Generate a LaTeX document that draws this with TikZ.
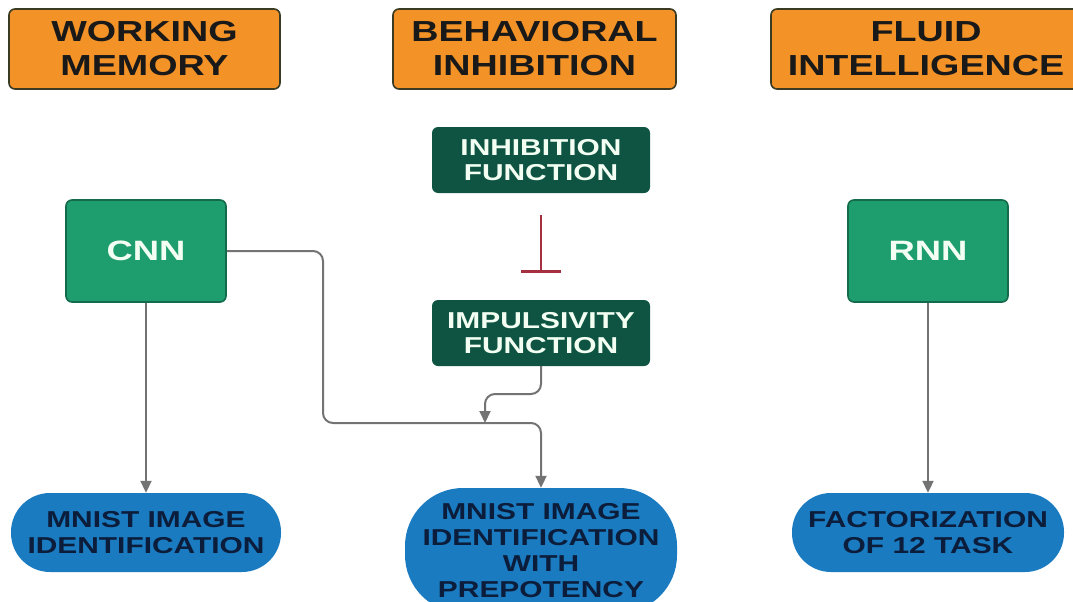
\documentclass[tikz,border=0pt]{standalone}
\usepackage{fontspec}
\setmainfont{Liberation Sans}[FakeStretch=1.3]
\usepackage{xcolor}
\usetikzlibrary{arrows.meta, positioning}
\definecolor{headorange}{HTML}{F29227}
\definecolor{headedge}{HTML}{3B3A22}
\definecolor{netgreen}{HTML}{1E9E6E}
\definecolor{netedge}{HTML}{146B4B}
\definecolor{funcgreen}{HTML}{0F5443}
\definecolor{taskblue}{HTML}{1B7BC0}
\definecolor{tasktext}{HTML}{0B1D3A}
\definecolor{inhibred}{HTML}{A63040}
\definecolor{linkgray}{HTML}{737373}

\begin{document}
\begin{tikzpicture}
  [
    x=1pt, y=-1pt,
    Head/.style={rectangle, rounded corners=6pt, draw=headedge, fill=headorange, line width=1.6pt,
      minimum width=#1, minimum height=80pt, inner sep=0pt, align=center, text=black!90,
      font=\fontsize{29}{34}\selectfont\bfseries},
    Net/.style={rectangle, rounded corners=6pt, draw=netedge, fill=netgreen, line width=1.6pt,
      minimum width=160pt, minimum height=102pt, inner sep=0pt, text=white!95!green,
      font=\fontsize{28}{32}\selectfont\bfseries},
    Func/.style={rectangle, rounded corners=6pt, fill=funcgreen, minimum width=218pt,
      minimum height=66pt, inner sep=0pt, align=center, text=white!95!green,
      font=\fontsize{23}{25}\selectfont\bfseries},
    Task/.style={rectangle, rounded corners=#1, fill=taskblue, inner sep=0pt, align=center,
      text=tasktext, font=\fontsize{23}{26}\selectfont\bfseries},
    Link/.style={draw=linkgray, line width=2pt, rounded corners=10pt,
      -{Triangle[width=11pt, length=12pt]}}
  ]
  \useasboundingbox (0,0) rectangle (1073,602);
  % Nodes
  \node[Head=271pt] (wm) at(144.5, 49) {WORKING\\MEMORY};
  \node[Head=283pt] (bi) at(534.5, 49) {BEHAVIORAL\\INHIBITION};
  \node[Head=310pt] (fi) at(926, 49) {FLUID\\INTELLIGENCE};
  \node[Func] (inh) at(541, 160) {INHIBITION\\FUNCTION};
  \node[Func] (imp) at(541, 333) {IMPULSIVITY\\FUNCTION};
  \node[Net] (cnn) at(146, 251) {CNN};
  \node[Net] (rnn) at(928, 251) {RNN};
  \node[Task=39pt, minimum width=270pt, minimum height=79pt] (mnist) at(146, 532.5)
    {MNIST IMAGE\\IDENTIFICATION};
  \node[Task=58pt, minimum width=272pt, minimum height=125pt] (prep) at(541, 550.5)
    {MNIST IMAGE\\IDENTIFICATION\\WITH\\PREPOTENCY};
  \node[Task=39pt, minimum width=272pt, minimum height=79pt] (fact) at(928, 532.5)
    {FACTORIZATION\\OF 12 TASK};
  \coordinate (cnnbend) at(323, 423);
  \coordinate (impbend) at(485, 394);
  \coordinate (merge) at(485, 423);
  % Lines
  \path [draw=inhibred, line width=2.2pt, -{Bar[width=40pt, line width=2.6pt]},
    shorten <=22pt, shorten >=27pt] (inh) -- (imp);
  \path [Link] (cnn) -- (mnist);
  \path [Link] (rnn) -- (fact);
  \path [Link] (cnn.east) -| (cnnbend) -| (prep.north);
  \path [Link] (imp.south) |- (impbend) -- (merge);
\end{tikzpicture}
\end{document}
